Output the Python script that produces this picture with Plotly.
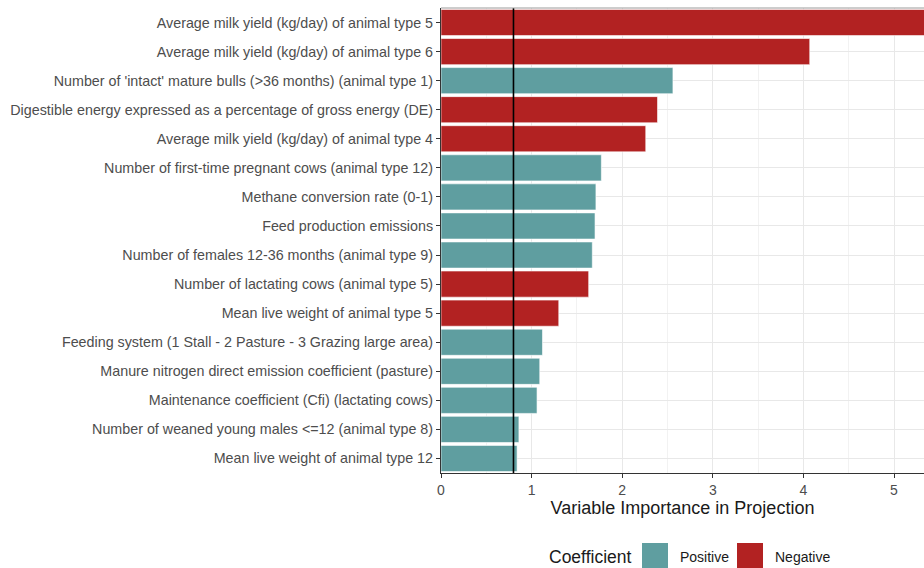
import plotly.graph_objects as go

variables = [
    "Average milk yield (kg/day) of animal type 5",
    "Average milk yield (kg/day) of animal type 6",
    "Number of 'intact' mature bulls (>36 months) (animal type 1)",
    "Digestible energy expressed as a percentage of gross energy (DE)",
    "Average milk yield (kg/day) of animal type 4",
    "Number of first-time pregnant cows (animal type 12)",
    "Methane conversion rate (0-1)",
    "Feed production emissions",
    "Number of females 12-36 months (animal type 9)",
    "Number of lactating cows (animal type 5)",
    "Mean live weight of animal type 5",
    "Feeding system (1 Stall - 2 Pasture - 3 Grazing large area)",
    "Manure nitrogen direct emission coefficient (pasture)",
    "Maintenance coefficient (Cfi) (lactating cows)",
    "Number of weaned young males <=12 (animal type 8)",
    "Mean live weight of animal type 12",
]
vip = [5.6, 4.07, 2.56, 2.39, 2.26, 1.77, 1.71, 1.70, 1.67, 1.63, 1.30, 1.12, 1.09, 1.06, 0.86, 0.84]
coef_sign = ["Negative", "Negative", "Positive", "Negative", "Negative", "Positive", "Positive",
             "Positive", "Positive", "Negative", "Negative", "Positive", "Positive", "Positive",
             "Positive", "Positive"]
threshold = 0.8
x_ticks = [0, 1, 2, 3, 4, 5]

colors = {"Positive": "#5F9EA0", "Negative": "#B22222"}

fig = go.Figure()
fig.add_trace(go.Bar(
    x=vip, y=variables, orientation="h",
    marker=dict(color=[colors[s] for s in coef_sign], line=dict(color="white", width=0.6)),
    width=0.9, showlegend=False, hoverinfo="skip",
))

W, H = 924, 568
L, T, B = 441, 8, 95
pw, ph = W - L, H - T - B

def px(xp):
    return (xp - L) / pw

def py(yp):
    return (H - B - yp) / ph

fig.add_shape(type="line", x0=threshold, x1=threshold, y0=0, y1=1, xref="x", yref="paper",
              line=dict(color="black", width=1.6), layer="above")
fig.add_shape(type="line", x0=0, x1=1, y0=1, y1=1, xref="paper", yref="paper",
              line=dict(color="#9a9a9a", width=1), layer="above")

# legend
fig.add_annotation(x=px(590), y=py(557), xref="paper", yref="paper", text="Coefficient",
                   showarrow=False, font=dict(size=17.5, color="#1a1a1a"), xanchor="center", yanchor="middle")
for name, x0, tx in [("Positive", 642, 678), ("Negative", 737, 773)]:
    fig.add_shape(type="rect", x0=px(x0), x1=px(x0 + 26), y0=py(543), y1=py(569),
                  xref="paper", yref="paper", fillcolor=colors[name], line=dict(width=0))
    fig.add_annotation(x=px(tx), y=py(557), xref="paper", yref="paper", text=name,
                       showarrow=False, font=dict(size=14, color="#1a1a1a"),
                       xanchor="left", yanchor="middle")

fig.update_layout(
    width=W, height=H,
    margin=dict(l=L, r=0, t=T, b=B),
    plot_bgcolor="white", paper_bgcolor="white",
    font=dict(family="Liberation Sans, Arial, sans-serif", color="#4d4d4d"),
    bargap=0.1,
)
fig.update_xaxes(
    range=[0, pw / 90.6], tickvals=x_ticks, ticktext=[str(v) for v in x_ticks],
    showgrid=True, gridcolor="#e8e8e8", gridwidth=1,
    minor=dict(dtick=0.5, showgrid=True, gridcolor="#f2f2f2", gridwidth=1),
    showline=True, linecolor="#333333", linewidth=1.2,
    ticks="outside", ticklen=4, tickcolor="#333333",
    tickfont=dict(size=14, color="#4d4d4d"),
    title=dict(text="Variable Importance in Projection", font=dict(size=18, color="#1a1a1a"), standoff=3),
    zeroline=False,
)
fig.update_yaxes(
    categoryorder="array", categoryarray=variables[::-1],
    range=[-0.5, len(variables) - 0.5],
    showgrid=True, gridcolor="#e8e8e8",
    showline=True, linecolor="#333333", linewidth=1.2,
    ticks="outside", ticklen=4, tickcolor="#333333",
    tickfont=dict(size=14.3, color="#4d4d4d"),
)

fig.write_html("out.html", config={"displayModeBar": False},
               post_script="document.body.style.margin='0';")
